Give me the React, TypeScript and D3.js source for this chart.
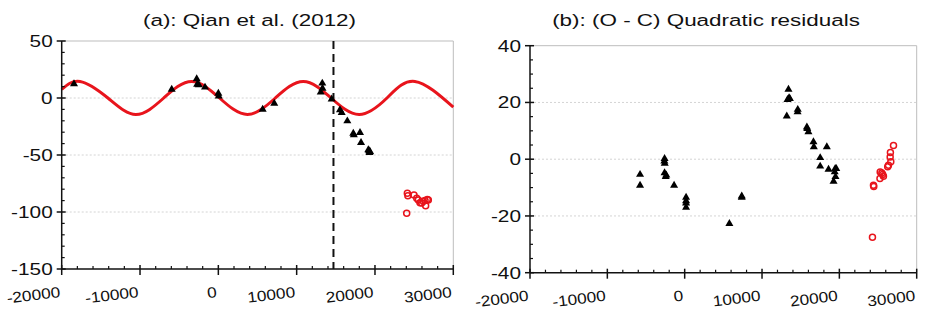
import * as d3 from 'd3';

// (a) Qian et al. (2012) - O-C with sinusoid
const leftTriangles: [number, number][] = [
  [-18430, 12.3], [-5955, 7.5], [-2763, 16.7], [-2700, 12], [-2500, 11.5], [-1700, 9.4],
  [0, 4], [50, 1.5], [5660, -10], [7140, -4.7], [13275, 12.9], [13070, 5], [13300, 8.5],
  [14470, -1.1], [15530, -10.5], [15750, -12.9], [16470, -20.2], [17230, -31], [17300, -32.5],
  [18090, -30.4], [18220, -39.2], [19150, -45.6], [19370, -47.1], [19300, -48], [19250, -46.5],
];
const leftCircles: [number, number][] = [
  [24130, -83.6], [24200, -85.7], [24050, -101], [24980, -85], [25330, -88], [25530, -89.5],
  [25750, -91.8], [25960, -92], [26170, -90.6], [26390, -90], [26680, -89], [26470, -94.5],
  [26810, -89.5],
];
// sinusoid read at its ends, crests, troughs and zero crossings
const sineCurve: [number, number][] = [
  [-20000, 7.5], [-17660, 14.5], [-14100, 0], [-10535, -14.5], [-6970, 0], [-3410, 14.5],
  [150, 0], [3715, -14.5], [7280, 0], [10840, 14.5], [14400, 0], [17965, -14.5], [21530, 0],
  [25090, 14.5], [30000, -8.1],
];
const dashedX = 14700;

// (b) quadratic residuals
const rightTriangles: [number, number][] = [
  [-5770, -5.4], [-5770, -9.2], [-2626, -0.7], [-2600, 0.2], [-2580, -1.5], [-2600, -4.8],
  [-2450, -6.2], [-2380, -5.6], [-1370, -9.2], [180, -13.5], [180, -14.7], [180, -15.5],
  [180, -17], [5780, -22.7], [7380, -13.5], [7380, -13], [13420, 24.6], [13300, 21],
  [13500, 21.6], [13600, 21.3], [13200, 15.2], [14600, 16.7], [14620, 17.5], [15800, 11.3],
  [15850, 10.8], [16000, 9.6], [16650, 6.1], [16700, 4.3], [18380, 4.3], [17520, 0.5],
  [17520, -2.5], [18600, -3.6], [19250, -7.8], [19460, -3.3], [19600, -3.3], [19500, -6.2],
  [19400, -4.5],
];
const rightCircles: [number, number][] = [
  [24410, -9.2], [24450, -9.6], [24280, -27.5], [25280, -4.5], [25250, -6.8], [25490, -4.9],
  [25700, -6], [25600, -5.4], [26350, -2.1], [26250, -2.7], [26570, 0.8], [26650, -0.9],
  [26600, 2.4], [27000, 4.8],
];

const xTicks = [-20000, -10000, 0, 10000, 20000, 30000];
const leftYTicks = [50, 0, -50, -100, -150];
const rightYTicks = [40, 20, 0, -20, -40];

const RED = '#e8141c';
const FONT = 'Liberation Sans, Arial, sans-serif';
// the picture is stretched sideways
const SX_TITLE = 1.32;
const SX_Y = 1.3;
const SX_X = 1.15;

type PanelProps = {
  title: string;
  box: { left: number; right: number; top: number; bottom: number };
  yDomain: [number, number];
  yTicks: number[];
  yMinorStep: number;
  triangles: [number, number][];
  circles: [number, number][];
  curve?: [number, number][];
  dashed?: number;
  titleX: number;
};

function Panel({ title, box, yDomain, yTicks, yMinorStep, triangles, circles, curve, dashed, titleX }: PanelProps) {
  const x = d3.scaleLinear().domain([-20000, 30000]).range([box.left, box.right]);
  const y = d3.scaleLinear().domain(yDomain).range([box.bottom, box.top]);
  const xMinor = d3.range(-20000, 30001, 2000).filter(v => v % 10000 !== 0);
  const yMinor = d3.range(yDomain[0], yDomain[1] + 0.01, yMinorStep).filter(v => !yTicks.includes(v));
  const tri = d3.symbol().type(d3.symbolTriangle).size(28)()!;
  const line = d3.line<[number, number]>().x(d => x(d[0])).y(d => y(d[1])).curve(d3.curveNatural);

  return (
    <g>
      <g transform={`translate(${titleX},26) scale(${SX_TITLE},1)`}>
        <text textAnchor="middle" fontFamily={FONT} fontSize={17} fill="#111">{title}</text>
      </g>
      {/* grid */}
      {yTicks.filter(v => v !== yDomain[0] && v !== yDomain[1]).map(v => (
        <line key={v} x1={box.left} x2={box.right} y1={y(v)} y2={y(v)} stroke="#d4d4d4" strokeWidth={1} strokeDasharray="2,2" />
      ))}
      <line x1={box.left} x2={box.right} y1={box.top} y2={box.top} stroke="#bdbdbd" strokeWidth={1} />
      <line x1={box.right} x2={box.right} y1={box.top} y2={box.bottom} stroke="#bdbdbd" strokeWidth={1} />
      {dashed !== undefined && (
        <line x1={x(dashed)} x2={x(dashed)} y1={box.top} y2={box.bottom} stroke="#111" strokeWidth={2} strokeDasharray="8,5" />
      )}
      {curve && <path d={line(curve)!} fill="none" stroke={RED} strokeWidth={3} />}
      {triangles.map((d, i) => (
        <path key={i} d={tri} transform={`translate(${x(d[0])},${y(d[1])})`} fill="#000" />
      ))}
      {circles.map((d, i) => (
        <circle key={i} cx={x(d[0])} cy={y(d[1])} r={3} fill="none" stroke={RED} strokeWidth={1.5} />
      ))}
      {/* axes */}
      <line x1={box.left} x2={box.left} y1={box.top} y2={box.bottom} stroke="#111" strokeWidth={1.5} />
      <line x1={box.left} x2={box.right} y1={box.bottom} y2={box.bottom} stroke="#111" strokeWidth={1.5} />
      {yTicks.map(v => (
        <g key={v}>
          <line x1={box.left - 5} x2={box.left + 4} y1={y(v)} y2={y(v)} stroke="#111" strokeWidth={1.5} />
          <g transform={`translate(${box.left - 9},${y(v) + 6}) scale(${SX_Y},1)`}>
            <text textAnchor="end" fontFamily={FONT} fontSize={16} fill="#111">{v}</text>
          </g>
        </g>
      ))}
      {yMinor.map(v => (
        <line key={v} x1={box.left} x2={box.left + 3} y1={y(v)} y2={y(v)} stroke="#111" strokeWidth={1.2} />
      ))}
      {xTicks.map(v => (
        <g key={v}>
          <line x1={x(v)} x2={x(v)} y1={box.bottom - 4} y2={box.bottom + 6} stroke="#111" strokeWidth={1.5} />
          <g transform={`translate(${x(v) - 1},${box.bottom + 28}) rotate(-7) scale(${SX_X},1)`}>
            <text textAnchor="end" fontFamily={FONT} fontSize={15} fill="#111">{v}</text>
          </g>
        </g>
      ))}
      {xMinor.map(v => (
        <line key={v} x1={x(v)} x2={x(v)} y1={box.bottom - 3} y2={box.bottom} stroke="#111" strokeWidth={1.2} />
      ))}
    </g>
  );
}

export default function App() {
  return (
    <svg width={926} height={315} style={{ position: 'absolute', left: 0, top: 0, background: '#fff' }}>
      <rect width={926} height={315} fill="#fff" />
      <Panel
        title="(a): Qian et al. (2012)"
        titleX={249.5}
        box={{ left: 61.7, right: 453.3, top: 41, bottom: 269 }}
        yDomain={[-150, 50]}
        yTicks={leftYTicks}
        yMinorStep={10}
        triangles={leftTriangles}
        circles={leftCircles}
        curve={sineCurve}
        dashed={dashedX}
      />
      <Panel
        title="(b): (O - C) Quadratic residuals"
        titleX={706}
        box={{ left: 530, right: 916.7, top: 45.7, bottom: 272.7 }}
        yDomain={[-40, 40]}
        yTicks={rightYTicks}
        yMinorStep={5}
        triangles={rightTriangles}
        circles={rightCircles}
      />
    </svg>
  );
}
